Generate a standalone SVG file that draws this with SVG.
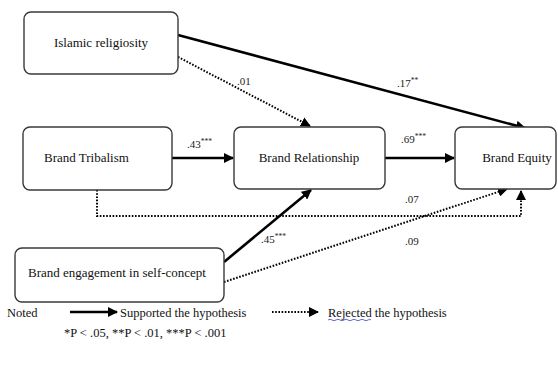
<svg xmlns="http://www.w3.org/2000/svg" width="558" height="372" viewBox="0 0 558 372">
<style>
.box{fill:#fff;stroke:#3a3a3a;stroke-width:1.4}
text{font-family:'Liberation Serif','Times New Roman','DejaVu Serif',serif}
.lbl{font-size:13px;fill:#111}
.coef{font-size:11px;fill:#222}
.sup{font-size:7.5px}
.solid{fill:none;stroke:#000;stroke-width:2.6}
.dot{fill:none;stroke:#000;stroke-width:2;stroke-dasharray:1.6 1.6}
.leg{font-size:12.5px;fill:#111}
</style>
<defs>
<marker id="ah" viewBox="0 0 10 10" refX="9" refY="5" markerWidth="10" markerHeight="10" markerUnits="userSpaceOnUse" orient="auto">
<path d="M0,0 L10,5 L0,10 z" fill="#000"/>
</marker>
</defs>
<rect width="558" height="372" fill="#fff"/>
<g id="connectors">
<line class="solid" x1="178" y1="35" x2="525" y2="128" marker-end="url(#ah)"/>
<line class="dot" x1="178" y1="57" x2="310" y2="126" marker-end="url(#ah)"/>
<line class="solid" x1="172" y1="158" x2="233" y2="158" marker-end="url(#ah)"/>
<line class="solid" x1="385" y1="158" x2="454" y2="158" marker-end="url(#ah)"/>
<polyline class="dot" points="97,190 97,216 521,216 521,191" marker-end="url(#ah)"/>
<line class="solid" x1="224" y1="262" x2="311" y2="190" marker-end="url(#ah)"/>
<line class="dot" x1="224" y1="282" x2="507" y2="189" marker-end="url(#ah)"/>
<text class="coef" x="397" y="87">.17<tspan class="sup" dy="-4">**</tspan></text>
<text class="coef" x="237" y="85">.01</text>
<text class="coef" x="187" y="148">.43<tspan class="sup" dy="-4">***</tspan></text>
<text class="coef" x="401" y="143">.69<tspan class="sup" dy="-4">***</tspan></text>
<text class="coef" x="405" y="203">.07</text>
<text class="coef" x="261" y="243">.45<tspan class="sup" dy="-4">***</tspan></text>
<text class="coef" x="405" y="245">.09</text>
</g>
<g id="islamic">
<rect class="box" x="24" y="12" width="154" height="62" rx="7"/>
<text class="lbl" x="101" y="47" text-anchor="middle">Islamic religiosity</text>
</g>
<g id="tribalism">
<rect class="box" x="23" y="127" width="149" height="63" rx="7"/>
<text class="lbl" x="44" y="162">Brand Tribalism</text>
</g>
<g id="relationship">
<rect class="box" x="234" y="127" width="151" height="62" rx="7"/>
<text class="lbl" x="309" y="162" text-anchor="middle">Brand Relationship</text>
</g>
<g id="equity">
<rect class="box" x="455" y="127" width="101" height="62" rx="7"/>
<text class="lbl" x="517" y="162" text-anchor="middle">Brand Equity</text>
</g>
<g id="engagement">
<rect class="box" x="15" y="248" width="209" height="54" rx="7"/>
<text class="lbl" x="28" y="277">Brand engagement in self-concept</text>
</g>
<g id="legend">
<text class="leg" x="7" y="317">Noted</text>
<line class="solid" x1="70" y1="312" x2="117" y2="312" marker-end="url(#ah)"/>
<text class="leg" x="120" y="317">Supported the hypothesis</text>
<line class="dot" x1="272" y1="312" x2="318" y2="312" marker-end="url(#ah)"/>
<text class="leg" x="328" y="317">Rejected the hypothesis</text>
<path d="M328,320 q2,-1.5 4,0 t4,0 t4,0 t4,0 t4,0 t4,0 t4,0 t4,0 t4,0 t4,0 t3,0" fill="none" stroke="#3344cc" stroke-width="0.8"/>
<text class="leg" x="64" y="337">*P &lt; .05, **P &lt; .01, ***P &lt; .001</text>
</g>
</svg>
